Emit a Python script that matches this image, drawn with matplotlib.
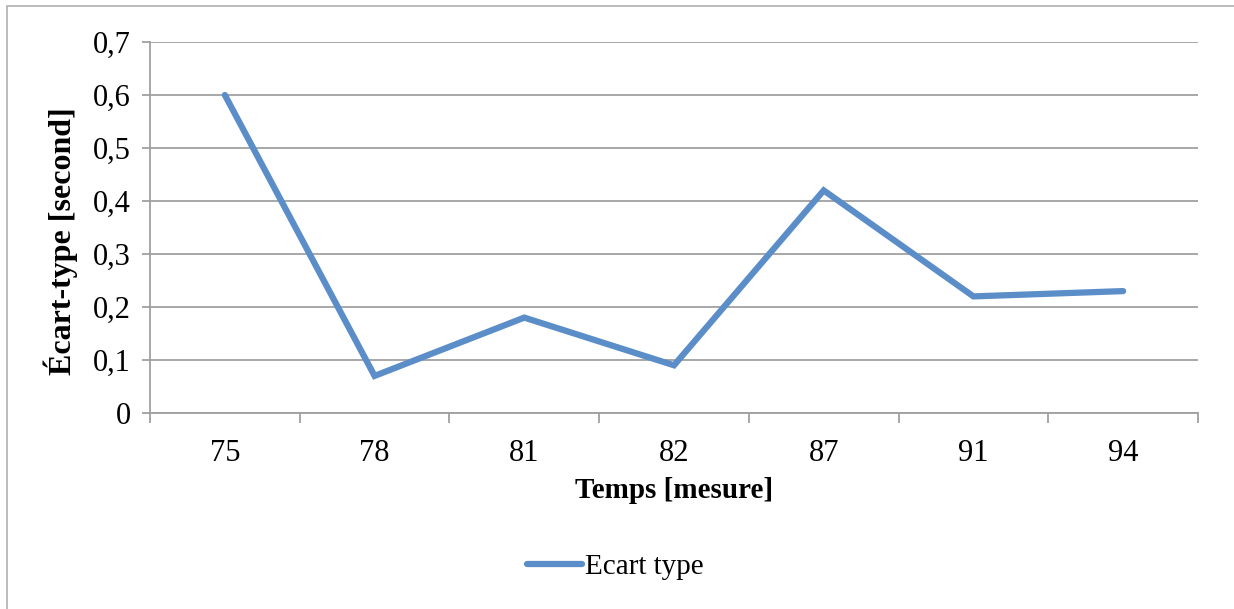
import matplotlib.pyplot as plt
from matplotlib.patches import Rectangle
from matplotlib.lines import Line2D

temps = ['75', '78', '81', '82', '87', '91', '94']
ecart = [0.60, 0.07, 0.18, 0.09, 0.42, 0.22, 0.23]
yticks = [0, 0.1, 0.2, 0.3, 0.4, 0.5, 0.6, 0.7]
ylabels = ['0', '0,1', '0,2', '0,3', '0,4', '0,5', '0,6', '0,7']

plt.rcParams['font.family'] = ['Liberation Serif', 'DejaVu Serif']
grey = '#a0a0a0'
blue = '#5b8ec8'

fig = plt.figure(figsize=(12.34, 6.09), dpi=100)
# outer chart border
fig.patches.append(Rectangle((7/1234, -0.1), 1.2, 1 - 6/609 + 0.1,
                             transform=fig.transFigure, fill=False,
                             edgecolor='#b0b0b0', lw=1.2))

ax = fig.add_axes([150/1234, 1 - 413/609, 1048/1234, 371/609])
x = range(len(temps))
ax.plot(x, ecart, color=blue, lw=4.5, solid_capstyle='round',
        solid_joinstyle='miter', label='Ecart type', zorder=3)

ax.set_xlim(-0.5, len(temps) - 0.5)
ax.set_ylim(0, 0.7)
ax.set_yticks(yticks)
ax.set_yticklabels(ylabels)
ax.set_xticks(list(x))
ax.set_xticklabels(temps)
ax.set_xticks([i - 0.5 for i in range(len(temps) + 1)], minor=True)
ax.tick_params(axis='x', which='major', length=0, pad=19, labelsize=22)
ax.tick_params(axis='x', which='minor', length=7, width=1.3, color=grey)
ax.tick_params(axis='y', length=6, width=1.3, color=grey, pad=8, labelsize=22)
ax.grid(axis='y', color=grey, lw=1.3)
ax.set_axisbelow(True)
for s in ['top', 'right']:
    ax.spines[s].set_visible(False)
for s in ['left', 'bottom']:
    ax.spines[s].set_color(grey)
    ax.spines[s].set_linewidth(1.3)

ax.set_xlabel('Temps [mesure]', fontsize=21, fontweight='bold', labelpad=6)
ax.set_ylabel('Écart-type [second]', fontsize=23, fontweight='bold')
ax.yaxis.set_label_coords(-0.069, 0.464)

leg = fig.legend(handles=[Line2D([], [], color=blue, lw=4.5, solid_capstyle='round')],
                 labels=['Ecart type'], loc='center', bbox_to_anchor=(615/1234, 1 - 567/609),
                 frameon=False, fontsize=21, handlelength=1.9, handletextpad=0.1)

fig.savefig('out.png', dpi=100)
